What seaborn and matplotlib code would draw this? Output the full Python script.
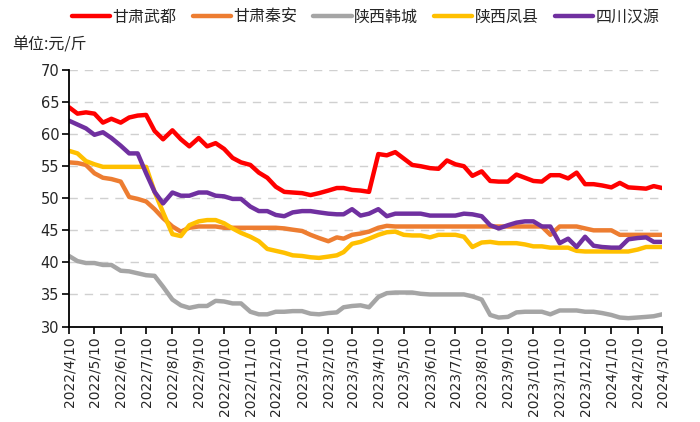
import pandas as pd
import matplotlib
matplotlib.use("Agg")
import matplotlib.pyplot as plt
import seaborn as sns

# dekad (10-day) price points, 2022/4/10 .. 2024/3/10, unit: yuan/jin
regions = ["甘肃武都", "甘肃秦安", "陕西韩城", "陕西凤县", "四川汉源"]
colors = ["#FF0000", "#ED7D31", "#A5A5A5", "#FFC000", "#7030A0"]

wudu = [64.2, 63.2, 63.4, 63.2, 61.8, 62.4, 61.8, 62.6, 62.9, 63.0,
        60.5, 59.2, 60.6, 59.2, 58.1, 59.4, 58.1, 58.6, 57.7, 56.3,
        55.6, 55.2, 54.0, 53.2, 51.8, 51.0, 50.9, 50.8, 50.5, 50.8,
        51.2, 51.6, 51.6, 51.3, 51.2, 51.0, 56.9, 56.7, 57.2, 56.2,
        55.2, 55.0, 54.7, 54.6, 55.9, 55.3, 55.0, 53.5, 54.2, 52.7,
        52.6, 52.6, 53.7, 53.2, 52.7, 52.6, 53.6, 53.6, 53.1, 54.0,
        52.2, 52.2, 52.0, 51.7, 52.4, 51.7, 51.6, 51.5, 51.9, 51.6]

qinan = [55.6, 55.5, 55.2, 53.9, 53.2, 53.0, 52.6, 50.2, 49.9, 49.5,
         48.3, 46.9, 45.6, 44.8, 45.4, 45.6, 45.6, 45.6, 45.4, 45.4,
         45.4, 45.4, 45.4, 45.4, 45.4, 45.3, 45.1, 44.9, 44.3, 43.8,
         43.3, 43.9, 43.7, 44.3, 44.5, 44.8, 45.4, 45.7, 45.6, 45.6,
         45.6, 45.6, 45.6, 45.6, 45.6, 45.6, 45.6, 45.6, 45.6, 45.6,
         45.6, 45.6, 45.6, 45.6, 45.6, 45.6, 44.3, 45.6, 45.6, 45.6,
         45.3, 45.0, 45.0, 45.0, 44.3, 44.3, 44.3, 44.3, 44.3, 44.3]

hancheng = [41.0, 40.2, 39.9, 39.9, 39.6, 39.6, 38.7, 38.6, 38.3, 38.0,
            37.9, 36.2, 34.2, 33.3, 32.9, 33.2, 33.2, 34.0, 33.9, 33.6,
            33.6, 32.3, 31.9, 31.9, 32.3, 32.3, 32.4, 32.4, 32.0, 31.9,
            32.1, 32.2, 33.0, 33.2, 33.3, 33.0, 34.6, 35.2, 35.3, 35.3,
            35.3, 35.1, 35.0, 35.0, 35.0, 35.0, 35.0, 34.7, 34.2, 31.8,
            31.4, 31.5, 32.2, 32.3, 32.3, 32.3, 31.9, 32.5, 32.5, 32.5,
            32.3, 32.3, 32.1, 31.8, 31.4, 31.3, 31.4, 31.5, 31.6, 31.9]

fengxian = [57.4, 57.0, 55.8, 55.3, 54.9, 54.9, 54.9, 54.9, 54.9, 54.9,
            51.0, 47.8, 44.4, 44.1, 45.8, 46.4, 46.6, 46.6, 46.1, 45.3,
            44.6, 44.0, 43.3, 42.1, 41.8, 41.5, 41.1, 41.0, 40.8, 40.7,
            40.9, 41.1, 41.6, 42.9, 43.2, 43.7, 44.3, 44.7, 44.8, 44.3,
            44.2, 44.2, 43.9, 44.3, 44.3, 44.3, 44.0, 42.4, 43.1, 43.2,
            43.0, 43.0, 43.0, 42.8, 42.5, 42.5, 42.3, 42.3, 42.3, 41.8,
            41.7, 41.7, 41.7, 41.7, 41.7, 41.7, 42.0, 42.4, 42.4, 42.4]

hanyuan = [62.1, 61.5, 60.9, 59.9, 60.3, 59.4, 58.2, 57.0, 57.0, 53.9,
           51.0, 49.2, 50.9, 50.4, 50.4, 50.9, 50.9, 50.4, 50.3, 49.9,
           49.9, 48.7, 48.0, 48.0, 47.4, 47.2, 47.8, 48.0, 48.0, 47.8,
           47.6, 47.5, 47.5, 48.3, 47.3, 47.6, 48.3, 47.2, 47.6, 47.6,
           47.6, 47.6, 47.3, 47.3, 47.3, 47.3, 47.6, 47.5, 47.2, 45.8,
           45.3, 45.8, 46.2, 46.4, 46.4, 45.6, 45.6, 43.0, 43.7, 42.4,
           44.0, 42.6, 42.4, 42.3, 42.3, 43.6, 43.8, 43.9, 43.2, 43.2]


def dekad_dates():
    """10th, 20th and month-end of each month, then the final 2024/3/10."""
    out = []
    for m in pd.period_range("2022-04", "2024-02", freq="M"):
        last = min(30, m.days_in_month)
        for d in (10, 20, last):
            out.append(pd.Timestamp(m.year, m.month, d))
    out.append(pd.Timestamp(2024, 3, 10))
    return out


dates = dekad_dates()
wide = pd.DataFrame(
    dict(zip(regions, [wudu, qinan, hancheng, fengxian, hanyuan])), index=dates
)
df = wide.reset_index(names="date").melt(
    id_vars="date", var_name="region", value_name="price"
)

sns.set_theme(style="white")
plt.rcParams["font.family"] = ["Noto Sans CJK SC", "DejaVu Sans"]

fig = plt.figure(figsize=(7, 4.22), dpi=100)
ax = fig.add_axes([0.0986, 0.2263, 0.8474, 0.6077])

sns.lineplot(
    data=df, x="date", y="price", hue="region", hue_order=regions,
    palette=colors, linewidth=3.2, ax=ax, legend=True,
)

ax.set_ylim(30, 70)
ax.set_yticks(range(30, 71, 5))
ax.set_xlim(dates[0], dates[-1])
ticks = pd.date_range("2022-04-01", "2024-03-01", freq="MS") + pd.Timedelta(days=9)
ax.set_xticks(ticks)
ax.set_xticklabels([f"{t.year}/{t.month}/{t.day}" for t in ticks],
                   rotation=90, family="DejaVu Sans", fontsize=10)
ax.set_yticklabels([str(v) for v in range(30, 71, 5)],
                   family="DejaVu Sans", fontsize=10.5)

ax.set_xlabel("")
ax.set_ylabel("")
ax.yaxis.grid(True, color="#D0D0D0", linestyle=(0, (6, 5)), linewidth=1)
ax.set_axisbelow(True)
for s in ("top", "right"):
    ax.spines[s].set_visible(False)
for s in ("left", "bottom"):
    ax.spines[s].set_color("black")
    ax.spines[s].set_linewidth(1.3)
ax.tick_params(axis="both", which="major", direction="out", length=5,
               width=1.2, color="black", bottom=True, left=True, pad=2)

handles, labels = ax.get_legend_handles_labels()
ax.legend(handles, labels, loc="center", bbox_to_anchor=(0.5, 1.205),
          ncol=5, frameon=False, fontsize=11.5, handlelength=2.4,
          handletextpad=0.15, columnspacing=1.0)

fig.text(0.017, 0.893, "单位:元/斤", fontsize=11.5, ha="left", va="center")

fig.savefig("out.png", dpi=100)
